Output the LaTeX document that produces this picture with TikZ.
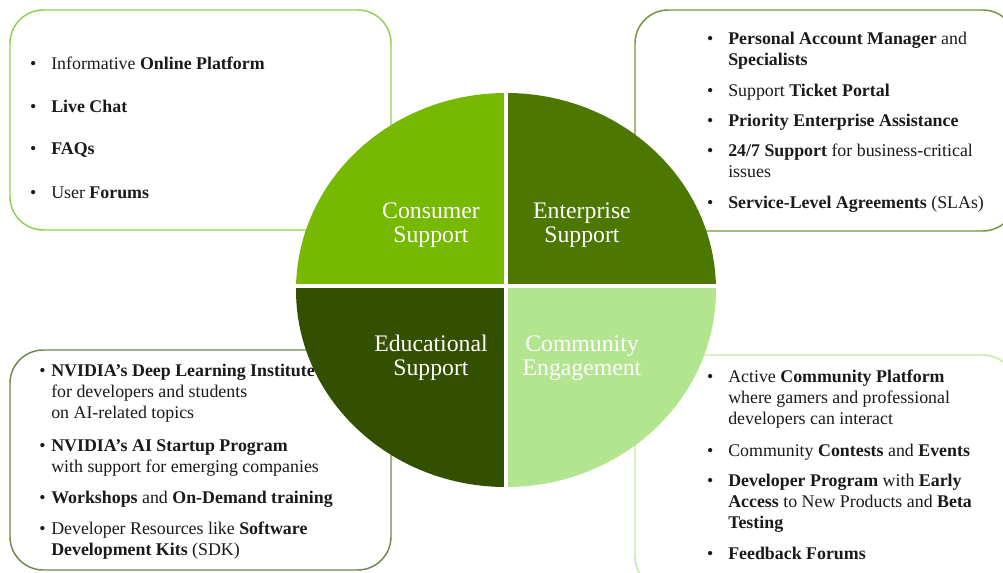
\documentclass[tikz,border=0pt]{standalone}
\usepackage{fontspec}
\setmainfont{Liberation Serif}
\definecolor{consC}{HTML}{76B900}
\definecolor{entC}{HTML}{4C7700}
\definecolor{eduC}{HTML}{335000}
\definecolor{comC}{HTML}{B3E48F}
\definecolor{tlS}{HTML}{92D050}
\definecolor{trS}{HTML}{77933C}
\definecolor{blS}{HTML}{71884F}
\definecolor{brS}{HTML}{C4E8A2}
\definecolor{txt}{HTML}{1A1A1A}
\newcommand{\bulA}{\leavevmode\llap{\textbullet\hspace{11.2pt}}}
\newcommand{\bulB}{\leavevmode\llap{\textbullet\hspace{4.2pt}}}
\newcommand{\itembox}[1]{\parbox[t]{280pt}{\raggedright #1}}
\tikzset{
  panel/.style={line width=1.1pt, rounded corners=25pt, fill=white},
  qlabel/.style={text=white, font=\fontsize{17.8}{18}\selectfont, align=center, inner sep=0pt},
  itemnode/.style={anchor=base west, inner sep=0pt, text=txt, font=\fontsize{13.4}{15.75}\selectfont}
}
\begin{document}
\begin{tikzpicture}[x=0.75pt,y=-0.75pt]
\useasboundingbox (0,0) rectangle (1003,573);
% panels
\draw[panel, draw=tlS] (10,10) rectangle (391,230);
\draw[panel, draw=trS] (635,10) rectangle (1016,231);
\draw[panel, draw=blS] (10,350) rectangle (391,570);
\draw[panel, draw=brS] (635,355) rectangle (1016,590);
% circle
\begin{scope}
\clip (506,290) ellipse [x radius=210, y radius=197];
\fill[consC] (280,70) rectangle (506,287);
\fill[entC] (506,70) rectangle (730,287);
\fill[eduC] (280,287) rectangle (506,500);
\fill[comC] (506,287) rectangle (730,500);
\draw[white, line width=3pt] (280,286) -- (730,286);
\draw[white, line width=3.3pt] (506,70) -- (506,500);
\end{scope}
\node[qlabel] (cons) at (431,225) {Consumer\\Support};
\node[qlabel] (ent) at (582,225) {Enterprise\\Support};
\node[qlabel] (edu) at (431,358) {Educational\\Support};
\node[qlabel] (com) at (582,358) {Community\\Engagement};
% top-left
\node[itemnode] (tl1) at (51,70) {\itembox{\bulA Informative \textbf{Online Platform}}};
\node[itemnode] (tl2) at (51,113) {\itembox{\bulA\textbf{Live Chat}}};
\node[itemnode] (tl3) at (51,155) {\itembox{\bulA\textbf{FAQs}}};
\node[itemnode] (tl4) at (51,199) {\itembox{\bulA User \textbf{Forums}}};
% top-right
\node[itemnode] (tr1) at (728,45) {\itembox{\bulA\textbf{Personal Account Manager} and\\\textbf{Specialists}}};
\node[itemnode] (tr2) at (728,96.5) {\itembox{\bulA Support \textbf{Ticket Portal}}};
\node[itemnode] (tr3) at (728,126.5) {\itembox{\bulA\textbf{Priority Enterprise Assistance}}};
\node[itemnode] (tr4) at (728,157) {\itembox{\bulA\textbf{24/7 Support} for business-critical\\issues}};
\node[itemnode] (tr5) at (728,209) {\itembox{\bulA\textbf{Service-Level Agreements} (SLAs)}};
% bottom-left
\node[itemnode] (bl1) at (51,377) {\itembox{\bulB\textbf{NVIDIA’s Deep Learning Institute}\\for developers and students\\on AI-related topics}};
\node[itemnode] (bl2) at (51,451) {\itembox{\bulB\textbf{NVIDIA’s AI Startup Program}\\with support for emerging companies}};
\node[itemnode] (bl3) at (51,503) {\itembox{\bulB\textbf{Workshops} and \textbf{On-Demand training}}};
\node[itemnode] (bl4) at (51,534) {\itembox{\bulB Developer Resources like \textbf{Software}\\\textbf{Development Kits} (SDK)}};
% bottom-right
\node[itemnode] (br1) at (728,382.5) {\itembox{\bulA Active \textbf{Community Platform}\\where gamers and professional\\developers can interact}};
\node[itemnode] (br2) at (728,456.5) {\itembox{\bulA Community \textbf{Contests} and \textbf{Events}}};
\node[itemnode] (br3) at (728,486.5) {\itembox{\bulA\textbf{Developer Program} with \textbf{Early}\\\textbf{Access} to New Products and \textbf{Beta}\\\textbf{Testing}}};
\node[itemnode] (br4) at (728,559) {\itembox{\bulA\textbf{Feedback Forums}}};
\end{tikzpicture}
\end{document}
